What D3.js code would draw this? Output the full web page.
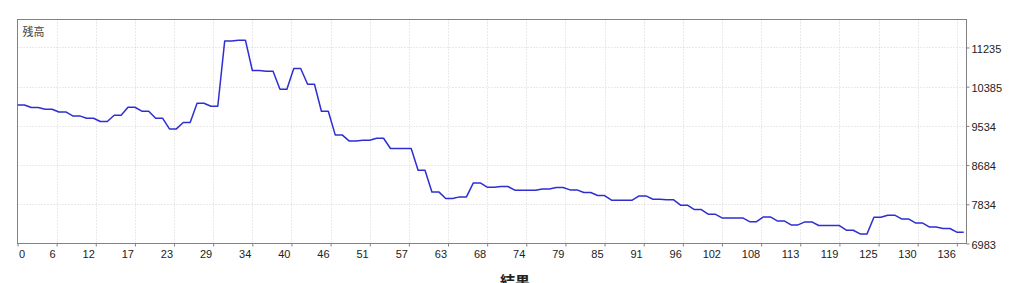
<!DOCTYPE html>
<html>
<head>
<meta charset="utf-8">
<script src="https://cdn.jsdelivr.net/npm/d3@7"></script>
<style>
  body { margin: 0; background: #fff; }
  svg { display: block; }
</style>
</head>
<body>
<div id="app"></div>
<script>
// 数据
const xTickLabels = [0, 6, 12, 17, 23, 29, 34, 40, 46, 51, 57, 63, 68, 74, 79, 85, 91, 96, 102, 108, 113, 119, 125, 130, 136]
const yTickLabels = [6983, 7834, 8684, 9534, 10385, 11235]
const balance = [
  9989, 9989, 9933, 9933, 9896, 9896, 9837, 9837, 9751, 9751,
  9701, 9701, 9629, 9629, 9766, 9766, 9939, 9939, 9853, 9853,
  9701, 9701, 9469, 9469, 9607, 9607, 10026, 10026, 9961, 9961,
  11377, 11377, 11393, 11393, 10735, 10735, 10720, 10720, 10330, 10330,
  10779, 10779, 10438, 10438, 9853, 9853, 9339, 9339, 9208, 9208,
  9222, 9222, 9267, 9267, 9044, 9044, 9044, 9044, 8573, 8573,
  8102, 8102, 7959, 7959, 7994, 7994, 8297, 8297, 8204, 8204,
  8220, 8220, 8139, 8139, 8139, 8139, 8167, 8167, 8198, 8198,
  8146, 8146, 8089, 8089, 8024, 8024, 7922, 7922, 7922, 7922,
  8015, 8015, 7944, 7944, 7930, 7930, 7814, 7814, 7720, 7720,
  7619, 7619, 7538, 7538, 7538, 7538, 7456, 7456, 7560, 7560,
  7473, 7473, 7386, 7386, 7452, 7452, 7373, 7373, 7373, 7373,
  7271, 7271, 7191, 7191, 7553, 7553, 7597, 7597, 7517, 7517,
  7430, 7430, 7343, 7343, 7308, 7308, 7228, 7228
]
const yLabel = '残高'
const xLabel = '結果'

const width = 1024
const height = 283
const plot = { left: 17.5, right: 966.5, top: 19.5, bottom: 243.5 }

const svg = d3.select('#app')
  .append('svg')
    .attr('width', width)
    .attr('height', height)
    .style('font-family', '"Liberation Sans", Arial, sans-serif')

// 坐标系
const xMax = 137.4
const yMax = 11842
const xScale = d3.scaleLinear()
  .domain([0, xMax])
  .range([plot.left, plot.right])
const yScale = d3.scaleLinear()
  .domain([yTickLabels[0], yMax])
  .range([plot.bottom, plot.top])

// x 网格位置: 等分到最后一个刻度
const lastTick = xTickLabels[xTickLabels.length - 1]
const xTickPos = xTickLabels.map((d, k) => k * lastTick / (xTickLabels.length - 1))

// 网格 (点线)
svg.append('g')
  .selectAll('line')
  .data(xTickPos.slice(1))
  .join('line')
    .attr('x1', d => Math.round(xScale(d)) + 0.5)
    .attr('x2', d => Math.round(xScale(d)) + 0.5)
    .attr('y1', plot.top)
    .attr('y2', plot.bottom)
    .attr('stroke', '#d4d4d4')
    .attr('stroke-dasharray', '1,2')
svg.append('g')
  .selectAll('line')
  .data(yTickLabels.slice(1))
  .join('line')
    .attr('x1', plot.left)
    .attr('x2', plot.right)
    .attr('y1', d => Math.round(yScale(d)) + 0.5)
    .attr('y2', d => Math.round(yScale(d)) + 0.5)
    .attr('stroke', '#d4d4d4')
    .attr('stroke-dasharray', '1,2')

// 边框
svg.append('rect')
  .attr('x', plot.left)
  .attr('y', plot.top)
  .attr('width', plot.right - plot.left)
  .attr('height', plot.bottom - plot.top)
  .attr('fill', 'none')
  .attr('stroke', '#828282')

// y 轴 (右边)
const yAxis = svg.append('g')
  .attr('transform', `translate(${plot.right}, 0)`)
  .call(d3.axisRight(yScale).tickValues(yTickLabels).tickFormat(d => d).tickSize(3).tickPadding(2))
yAxis.select('.domain').remove()
yAxis.selectAll('line').attr('stroke', '#828282')
yAxis.selectAll('text')
  .attr('fill', '#222')
  .attr('dy', '0.42em')
  .style('font-size', '11px')

// x 轴
const xAxis = svg.append('g')
  .attr('transform', `translate(0, ${plot.bottom})`)
  .call(d3.axisBottom(xScale).tickValues(xTickPos).tickFormat((d, i) => xTickLabels[i]).tickSize(3).tickPadding(3.5))
xAxis.select('.domain').remove()
xAxis.selectAll('line').attr('stroke', '#828282')
xAxis.selectAll('text')
  .attr('fill', '#222')
  .style('font-size', '11px')
  .attr('text-anchor', (d, i) => i === 0 ? 'start' : 'end')
  .attr('dx', (d, i) => i === 0 ? 1 : -1.5)

// 标签
svg.append('text')
  .attr('x', plot.left + 5)
  .attr('y', plot.top + 16)
  .attr('fill', '#444')
  .style('font-family', '"Noto Sans CJK JP", sans-serif')
  .style('font-size', '11px')
  .text(yLabel)
// 底部标题 (参考图中被窗口下边裁掉一部分)
svg.append('text')
  .attr('x', 515)
  .attr('y', 287)
  .attr('text-anchor', 'middle')
  .attr('fill', '#222')
  .style('font-family', '"Noto Sans CJK JP", sans-serif')
  .style('font-size', '15px')
  .style('font-weight', 'bold')
  .text(xLabel)

// 折线
const line = d3.line()
  .x((d, i) => xScale(i))
  .y(d => yScale(d))
svg.append('path')
  .datum(balance)
  .attr('d', line)
  .attr('fill', 'none')
  .attr('stroke', '#2e2ed2')
  .attr('stroke-width', 1.5)
  .attr('stroke-linejoin', 'round')
</script>
</body>
</html>
